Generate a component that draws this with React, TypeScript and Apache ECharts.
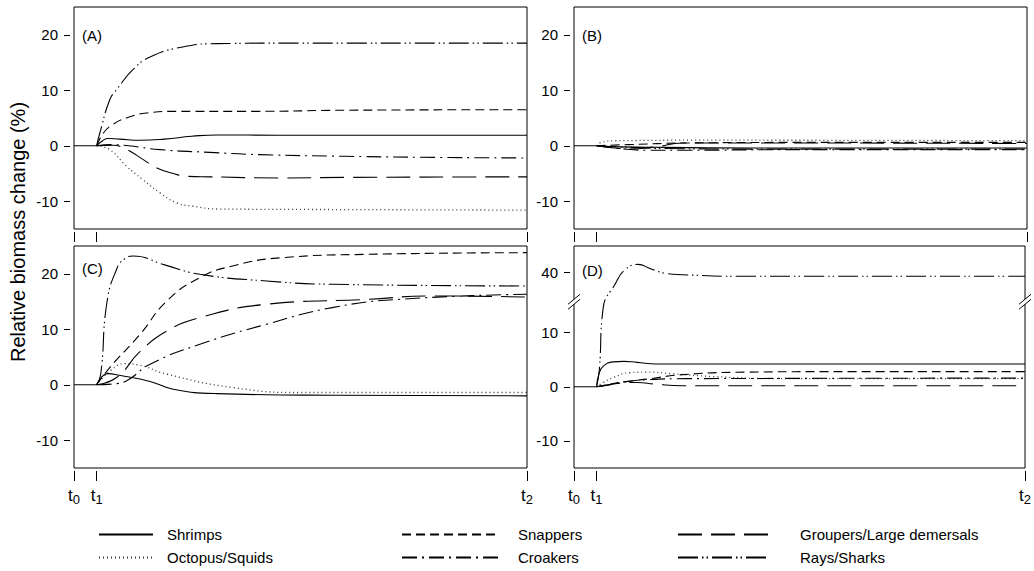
import React, { useEffect, useRef } from 'react';
import * as echarts from 'echarts';

type Pt = [number, number];

// ---------- categories / ticks ----------
const species = ['Shrimps', 'Octopus/Squids', 'Snappers', 'Croakers', 'Groupers/Large demersals', 'Rays/Sharks'];
const timeTicks = [0, 5, 100];
const timeTickLabels = ['0', '1', '2'];
const yTicksABC = [-10, 0, 10, 20];
const yTicksD = [-10, 0, 10, 40];
const panelLabels = ['(A)', '(B)', '(C)', '(D)'];

// pre-disturbance baseline (t0 -> t1), shared by all groups
const baseline: Pt[] = [[0, 0], [5, 0]];

// ---------- panel A (from t1 onwards) ----------
const A_shrimps: Pt[] = [[5, 0], [6.3, 0.9], [7.5, 1.3], [10, 1.2], [14.6, 1.0], [20, 1.2], [26, 1.7], [31.6, 1.95], [45, 1.9], [100, 1.9]];
const A_octopus: Pt[] = [[5, 0], [7.9, -0.7], [11.6, -3.7], [15.2, -6.1], [19, -8.5], [22.7, -10.3], [26.3, -10.9], [32, -11.4], [60, -11.5], [100, -11.6]];
const A_snappers: Pt[] = [[5, 0], [6.5, 2.3], [8.5, 3.8], [11.6, 5.0], [16, 5.9], [22.7, 6.2], [40, 6.2], [60, 6.4], [100, 6.5]];
const A_croakers: Pt[] = [[5, 0], [8.6, 0.2], [12, 0], [19, -0.7], [30, -1.2], [41, -1.6], [60, -1.9], [80, -2.1], [100, -2.2]];
const A_groupers: Pt[] = [[5, 0], [8.7, 0.1], [10.5, -0.2], [12.4, -1.0], [15.3, -2.5], [18.3, -4.0], [21.9, -5.0], [24.9, -5.5], [30, -5.6], [45, -5.8], [60, -5.7], [100, -5.6]];
const A_rays: Pt[] = [[5, 0], [5.7, 2.3], [7.9, 8.3], [9.4, 10.1], [13, 13.7], [16.8, 16], [24, 17.8], [31.6, 18.4], [50, 18.5], [100, 18.5]];

// ---------- panel B ----------
const B_shrimps: Pt[] = [[5, 0], [10, -0.2], [20, -0.3], [40, -0.4], [100, -0.4]];
const B_octopus: Pt[] = [[5, 0], [6, 0.6], [9, 0.9], [30, 1.0], [100, 0.9]];
const B_snappers: Pt[] = [[5, 0], [12, 0.2], [25, 0.5], [50, 0.6], [100, 0.6]];
const B_croakers: Pt[] = [[5, 0], [10, -0.5], [16, -0.8], [25, -0.8], [50, -0.7], [100, -0.7]];
const B_groupers: Pt[] = [[5, 0], [9, -0.4], [12, -0.6], [18, -0.2], [24, 0.5], [40, 0.5], [100, 0.4]];
const B_rays: Pt[] = [[5, 0], [10, -0.2], [20, -0.5], [40, -0.6], [100, -0.6]];

// ---------- panel C ----------
const C_shrimps: Pt[] = [[5, 0], [7.5, 2.0], [10, 1.7], [16.8, 0.6], [21.9, -0.8], [31.5, -1.6], [57, -1.9], [100, -2.0]];
const C_octopus: Pt[] = [[5, 0], [8, 2.5], [11.3, 3.8], [14, 3.6], [20.5, 1.9], [35, -0.5], [50, -1.4], [100, -1.4]];
const C_snappers: Pt[] = [[5, 0], [7.9, 3.1], [14.6, 9.1], [20.5, 15.1], [27.8, 19.3], [35, 21.4], [46, 22.9], [65, 23.5], [100, 23.8]];
const C_croakers: Pt[] = [[5, 0], [9.4, 0.2], [12, 0.9], [16.8, 3.7], [27.8, 7.3], [42.5, 10.9], [57, 13.9], [72, 15.4], [100, 16.3]];
const C_groupers: Pt[] = [[5, 0], [9.4, 1.3], [14.6, 6], [20.5, 9.7], [27.8, 12.1], [42.5, 14.5], [65, 15.4], [79, 16], [100, 15.8]];
const C_rays: Pt[] = [[5, 0], [5.9, 1.9], [7.3, 15], [9.5, 21], [11, 22.6], [13, 23.2], [20, 21.6], [27.8, 19.9], [42.5, 18.7], [57, 18.1], [100, 17.8]];

// ---------- panel D (real values; axis is broken between ~16 and ~35) ----------
const D_shrimps: Pt[] = [[5, 0], [5.5, 2.3], [6.5, 3.8], [8.7, 4.6], [11, 4.7], [14, 4.5], [18.3, 4.2], [100, 4.2]];
const D_octopus: Pt[] = [[5, 0], [6.5, 0.8], [8.7, 1.7], [12.4, 2.6], [16, 2.7], [22, 2.4], [30.7, 1.9], [45.5, 1.5], [100, 1.5]];
const D_snappers: Pt[] = [[5, 0], [8, 0.5], [12, 1.0], [17, 1.5], [23.4, 2.2], [38, 2.7], [60, 2.8], [100, 2.8]];
const D_croakers: Pt[] = [[5, 0], [8, 0.4], [11, 0.9], [16, 1.3], [25, 1.5], [100, 1.6]];
const D_groupers: Pt[] = [[5, 0], [8, 0.4], [11, 0.7], [14, 0.8], [18, 0.5], [24, 0.2], [100, 0.2]];
const D_rays: Pt[] = [[5, 0], [5.6, 3], [6.5, 14.7], [9, 37.7], [11.3, 40.5], [14.2, 41.5], [17, 40.7], [20, 39.9], [24, 39.6], [38, 39.3], [100, 39.3]];

const panels: Pt[][][] = [
  [A_shrimps, A_octopus, A_snappers, A_croakers, A_groupers, A_rays],
  [B_shrimps, B_octopus, B_snappers, B_croakers, B_groupers, B_rays],
  [C_shrimps, C_octopus, C_snappers, C_croakers, C_groupers, C_rays],
  [D_shrimps, D_octopus, D_snappers, D_croakers, D_groupers, D_rays],
];

// axis break for panel D
const breakLow = 16;
const breakShift = 18.9;
const breakMark = 15.7;
const dispD = (v: number) => (v <= breakLow ? v : v - breakShift);

const FONT = 'Liberation Sans, Arial, Helvetica, sans-serif';

const lineTypes: any[] = [
  'solid',
  [1, 3],
  [9, 5],
  [15, 5, 2, 5],
  [24, 9],
  [20, 4, 1.5, 3, 1.5, 4],
];

const grids = [
  { left: 74, top: 7, width: 453, height: 222 },
  { left: 574, top: 7, width: 453, height: 222 },
  { left: 74, top: 246, width: 453, height: 222 },
  { left: 574, top: 246, width: 453, height: 222 },
];
const labelDy = [28, 28, 22, 24];

export default function App() {
  const ref = useRef<HTMLDivElement>(null);

  useEffect(() => {
    document.body.style.margin = '0';
    const chart = echarts.init(ref.current!, null, { renderer: 'svg' });

    const hiddenLine = { show: true, onZero: false, lineStyle: { color: 'rgba(0,0,0,0)', width: 0 } };

    const xAxes = grids.map((_, gi) => ({
      type: 'value',
      gridIndex: gi,
      min: 0,
      max: 100,
      position: 'bottom',
      offset: 3,
      axisLine: hiddenLine,
      splitLine: { show: false },
      axisTick: { show: true, customValues: timeTicks, length: 10, lineStyle: { color: '#000', width: 1 } },
      axisLabel: {
        show: gi >= 2,
        customValues: timeTicks,
        margin: 16,
        formatter: (v: number) => `{t|t}{s|${timeTickLabels[timeTicks.indexOf(v)]}}`,
        rich: {
          t: { fontSize: 17, lineHeight: 17, verticalAlign: 'top', fontFamily: FONT, color: '#000' },
          s: { fontSize: 13, lineHeight: 13, verticalAlign: 'top', padding: [6, 0, 0, 0], fontFamily: FONT, color: '#000' },
        },
      },
    }));

    const yAxes = grids.map((_, gi) => {
      const ticks = gi === 3 ? yTicksD.map(dispD) : yTicksABC;
      return {
        type: 'value',
        gridIndex: gi,
        min: -15,
        max: gi === 3 ? 26 : 25,
        position: 'left',
        offset: 4,
        axisLine: hiddenLine,
        splitLine: { show: false },
        axisTick: { show: true, customValues: ticks, length: 6, lineStyle: { color: '#000', width: 1 } },
        axisLabel: {
          customValues: ticks,
          margin: 12,
          color: '#000',
          fontSize: 15,
          fontFamily: FONT,
          formatter: (v: number) => (gi === 3 && v > breakLow ? String(Math.round(v + breakShift)) : String(v)),
        },
      };
    });

    const series: any[] = [];
    panels.forEach((panel, gi) => {
      series.push({
        type: 'line',
        name: 'baseline',
        xAxisIndex: gi,
        yAxisIndex: gi,
        data: baseline,
        showSymbol: false,
        symbol: 'none',
        lineStyle: { color: '#000', width: 1, type: 'solid' },
        z: 2,
      });
      panel.forEach((pts, si) => {
        series.push({
          type: 'line',
          name: species[si],
          xAxisIndex: gi,
          yAxisIndex: gi,
          data: gi === 3 ? pts.map(([x, y]) => [x, dispD(y)]) : pts,
          showSymbol: false,
          symbol: 'none',
          smooth: 0.5,
          lineStyle: {
            color: si === 1 ? '#333' : '#000',
            width: si === 1 ? 1.3 : 1.1,
            type: lineTypes[si],
          },
          itemStyle: { color: si === 1 ? '#333' : '#000' },
          z: 2,
        });
      });
    });

    const legendBase = {
      orient: 'vertical',
      top: 527,
      itemHeight: 14,
      itemGap: 8,
      padding: 0,
      selectedMode: false,
      itemStyle: { opacity: 0 },
    };
    const legends = [
      { ...legendBase, left: 98, itemWidth: 54, data: [species[0], species[1]], textStyle: { fontSize: 15, fontFamily: FONT, color: '#000', padding: [0, 0, 0, 9] } },
      { ...legendBase, left: 401, itemWidth: 96, data: [species[2], species[3]], textStyle: { fontSize: 15, fontFamily: FONT, color: '#000', padding: [0, 0, 0, 15] } },
      { ...legendBase, left: 677, itemWidth: 92, data: [species[4], species[5]], textStyle: { fontSize: 15, fontFamily: FONT, color: '#000', padding: [0, 0, 0, 25] } },
    ];

    const graphics: any[] = [
      {
        type: 'text',
        id: 'yname',
        x: 18,
        y: 232,
        rotation: Math.PI / 2,
        style: { text: 'Relative biomass change (%)', fontSize: 20, fontFamily: FONT, fill: '#000', align: 'center', verticalAlign: 'middle' },
      },
      ...grids.map((g, i) => ({
        type: 'text',
        id: 'pl' + i,
        x: g.left + 8,
        y: g.top + labelDy[i],
        style: { text: panelLabels[i], fontSize: 15, fontFamily: FONT, fill: '#000', align: 'left', verticalAlign: 'middle' },
      })),
    ];

    chart.setOption({
      animation: false,
      backgroundColor: '#fff',
      grid: grids.map((g) => ({ ...g, show: true, borderColor: '#000', borderWidth: 1, backgroundColor: 'transparent', containLabel: false })),
      xAxis: xAxes,
      yAxis: yAxes,
      legend: legends,
      series,
      graphic: graphics,
    });

    // axis-break marks on panel D, positioned through the axis scale
    const pL = chart.convertToPixel({ gridIndex: 3 } as any, [0, breakMark]) as number[];
    const pR = chart.convertToPixel({ gridIndex: 3 } as any, [100, breakMark]) as number[];
    const breakEls: any[] = [];
    [pL, pR].forEach((p, k) => {
      const bx = p[0];
      const by = p[1];
      breakEls.push({
        type: 'rect',
        id: 'brk_rect' + k,
        shape: { x: bx - 2, y: by - 2.5, width: 4, height: 5 },
        style: { fill: '#fff' },
        z: 100,
      });
      [2.5, -2.5].forEach((d, j) => {
        breakEls.push({
          type: 'line',
          id: `brk_line${k}_${j}`,
          shape: { x1: bx - 6, y1: by + d + 5, x2: bx + 6, y2: by + d - 5 },
          style: { stroke: '#000', lineWidth: 1 },
          z: 101,
        });
      });
    });
    chart.setOption({ graphic: breakEls });

    return () => chart.dispose();
  }, []);

  return <div ref={ref} style={{ width: 1034, height: 571 }} />;
}
